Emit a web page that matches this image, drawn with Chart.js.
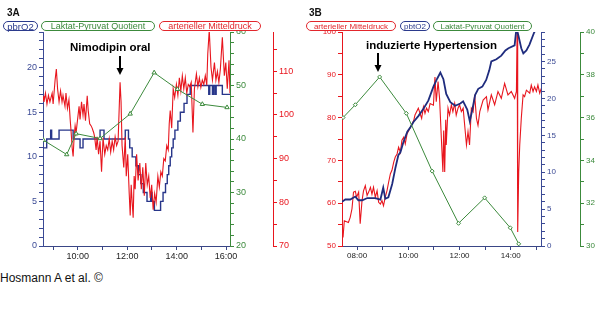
<!DOCTYPE html>
<html>
<head>
<meta charset="utf-8">
<script src="https://cdn.jsdelivr.net/npm/chart.js@4.4.0/dist/chart.umd.min.js"></script>
<style>
  body { margin: 0; background: #fff; font-family: "Liberation Sans", Arial, sans-serif; }
  .page { position: relative; width: 600px; height: 326px; overflow: hidden; }
  .panel { position: absolute; top: 0; width: 300px; height: 270px; }
  .tag { position: absolute; font-weight: bold; font-size: 10px; line-height: 11px; color: #111; }
  .note { position: absolute; font-weight: bold; font-size: 11.5px; line-height: 14px; color: #000; white-space: nowrap; }
  .pill { position: absolute; top: 21px; height: 10px; box-sizing: border-box; border: 1px solid; border-radius: 5px;
          display: flex; align-items: center; justify-content: center; white-space: nowrap; background: #fff; }
  .credit { position: absolute; left: 0; top: 271px; font-size: 12px; line-height: 14px; color: #111; }
  svg { position: absolute; }
</style>
</head>
<body>
<div class="page">
  <canvas id="chartA" class="panel" width="300" height="270" style="left:0"></canvas>
  <canvas id="chartB" class="panel" width="300" height="270" style="left:300px"></canvas>

  <div class="tag" style="left:7px;top:7px">3A</div>
  <div class="tag" style="left:309px;top:7px">3B</div>

  <div class="pill" style="left:3px;width:35px;font-size:9.5px;color:#2b3a8c;border-color:#2b3a8c">pbrO2</div>
  <div class="pill" style="left:41px;width:114px;font-size:9px;color:#3c8a3c;border-color:#3c8a3c">Laktat-Pyruvat Quotient</div>
  <div class="pill" style="left:159px;width:102px;font-size:9px;color:#e2262c;border-color:#e2262c">arterieller Mitteldruck</div>

  <div class="pill" style="left:306px;width:90px;font-size:8px;color:#e2262c;border-color:#e2262c">arterieller Mitteldruck</div>
  <div class="pill" style="left:400px;width:30px;font-size:8px;color:#2b3a8c;border-color:#2b3a8c">pbtO2</div>
  <div class="pill" style="left:433px;width:99px;font-size:8px;color:#3c8a3c;border-color:#3c8a3c">Laktat-Pyruvat Quotient</div>

  <div class="note" style="left:70px;top:40px">Nimodipin oral</div>
  <svg style="left:115px;top:55px" width="10" height="21"><line x1="5" y1="1" x2="5" y2="14" stroke="#000" stroke-width="2"/><polygon points="1.5,13 8.5,13 5,20" fill="#000"/></svg>

  <div class="note" style="left:366px;top:38px">induzierte Hypertension</div>
  <svg style="left:373px;top:52px" width="10" height="21"><line x1="5" y1="1" x2="5" y2="14" stroke="#000" stroke-width="2"/><polygon points="1.5,13 8.5,13 5,20" fill="#000"/></svg>

  <div class="credit">Hosmann A et al. ©</div>
</div>

<script>
// ---- 3A: times in hours ----
const timePbrO2 = [8.60, 8.74, 8.90, 8.94, 9.24, 9.81, 10.09, 10.21, 10.90, 11.06, 11.92, 12.05, 12.10, 12.20, 12.35, 12.45,
  12.55, 12.65, 12.80, 12.95, 13.00, 13.10, 13.35, 13.45, 13.55, 13.62, 13.68, 13.74, 13.80, 13.86, 13.93, 14.05, 14.15,
  14.30, 14.42, 14.55, 15.30, 15.34, 15.45, 15.49, 15.55, 15.60, 15.85, 16.16];
const pbrO2 = [11, 12, 13, 12, 13, 12, 11, 12, 13, 12, 13, 12, 11, 10, 9, 8,
  7, 6, 5, 6, 5, 4, 5, 6, 7, 8, 9, 10, 11, 12, 13, 14, 15,
  16, 17, 18, 17, 18, 17, 18, 17, 18, 17, 17];

const timeMapA = [8.59, 8.63, 8.69, 8.75, 8.81, 8.87, 8.96, 9.00, 9.08, 9.13,
  9.18, 9.24, 9.30, 9.36, 9.40, 9.48, 9.52, 9.58, 9.64, 9.69,
  9.73, 9.77, 9.81, 9.85, 9.89, 9.93, 9.99, 10.05, 10.09, 10.15,
  10.21, 10.25, 10.31, 10.38, 10.42, 10.48, 10.54, 10.58, 10.64, 10.68,
  10.74, 10.78, 10.84, 10.90, 10.96, 11.02, 11.09, 11.15, 11.21, 11.27,
  11.33, 11.39, 11.45, 11.51, 11.57, 11.63, 11.71, 11.75, 11.79, 11.86,
  11.92, 11.96, 12.02, 12.08, 12.12, 12.16, 12.20, 12.24, 12.28, 12.32,
  12.38, 12.44, 12.51, 12.57, 12.63, 12.69, 12.75, 12.81, 12.87, 12.93,
  12.99, 13.05, 13.11, 13.17, 13.24, 13.30, 13.36, 13.42, 13.48, 13.54,
  13.60, 13.66, 13.70, 13.74, 13.80, 13.86, 13.92, 13.99, 14.05, 14.11,
  14.17, 14.23, 14.29, 14.35, 14.41, 14.47, 14.53, 14.59, 14.66, 14.72,
  14.80, 14.86, 14.92, 14.98, 15.04, 15.10, 15.16, 15.22, 15.26, 15.32,
  15.39, 15.45, 15.53, 15.59, 15.65, 15.71, 15.77, 15.85, 15.93, 15.99,
  16.05, 16.12, 16.16];
const mapA = [104.3, 103, 105, 102.5, 104.5, 103, 105, 102.5, 108, 110.5,
  106, 103, 105.5, 103, 104.5, 102, 105, 101.5, 103.5, 99,
  96, 92.5, 90.5, 95, 97.5, 96, 99, 102, 99, 103,
  100, 102.5, 98.7, 104.4, 101, 98, 97.5, 97, 96, 95,
  92, 95, 91, 94, 87, 94.8, 91, 93, 92, 94.5,
  91.5, 94, 92, 95, 93, 94, 107.5, 103, 93, 88,
  95, 86, 91, 82, 77, 84, 80, 76.5, 86, 83,
  91, 85, 89, 83, 88, 81.5, 89, 84, 86, 81,
  84, 78.3, 82, 80, 86, 83.5, 87, 86, 90, 89.5,
  93, 92, 98, 101, 97, 106, 104, 107, 104.5, 108.5,
  105.5, 109, 106, 108.5, 105, 107, 106.5, 107.5, 96, 106,
  109.4, 106.5, 108.5, 106.3, 108, 107, 109, 106.8, 114, 119.4,
  111, 108, 112, 108, 110, 107.5, 110.5, 117.8, 109, 112,
  106, 112.5, 105];

const timeLprA = [8.60, 9.55, 9.93, 10.90, 12.12, 13.09, 14.03, 15.04, 16.04];
const lprA = [39.8, 37.1, 41.0, 40.1, 44.7, 52.4, 49.3, 46.5, 45.9];

// ---- 3B ----
const timeMapB = [7.41, 7.45, 7.50, 7.66, 7.73, 7.80, 7.86, 7.93, 7.98, 8.06,
  8.12, 8.19, 8.25, 8.32, 8.39, 8.45, 8.52, 8.58, 8.64, 8.71,
  8.78, 8.84, 8.91, 8.97, 9.03, 9.10, 9.17, 9.23, 9.30, 9.36,
  9.43, 9.49, 9.56, 9.62, 9.69, 9.75, 9.82, 9.88, 9.95, 10.08,
  10.21, 10.26, 10.39, 10.52, 10.59, 10.65, 10.71, 10.78, 10.85, 10.98,
  11.04, 11.09, 11.16, 11.22, 11.29, 11.35, 11.38, 11.42, 11.46, 11.48,
  11.55, 11.61, 11.68, 11.74, 11.81, 11.87, 11.94, 12.00, 12.07, 12.14,
  12.20, 12.27, 12.33, 12.39, 12.46, 12.53, 12.59, 12.66, 12.72, 12.79,
  12.92, 13.05, 13.11, 13.24, 13.37, 13.50, 13.63, 13.76, 13.89, 14.02,
  14.15, 14.22, 14.25, 14.27, 14.31, 14.35, 14.41, 14.48, 14.54, 14.61,
  14.74, 14.80, 14.87, 14.93, 15.00, 15.06, 15.13, 15.19];
const mapB = [55.2, 52, 55.9, 55.5, 56.7, 58.7, 62.6, 62.8, 61.4, 62.6,
  55.2, 60.5, 62.9, 64.1, 61.8, 62.6, 63.7, 62.1, 63.7, 61.4,
  62.9, 60.2, 59.8, 60.6, 59.4, 61.4, 63.0, 64.9, 66.9, 67.7,
  69.6, 70.8, 71.5, 73.1, 71.9, 74.7, 75.4, 73.9, 76.2, 77.7,
  79.3, 80.6, 82.2, 79.8, 82.5, 81.0, 82.2, 81.4, 83.3, 82.9,
  89.5, 83.7, 88.4, 84.5, 75.1, 67.3, 77, 67.3, 79.5, 73.6,
  82.2, 80.6, 83.0, 81.4, 83.3, 80.6, 82.2, 83.0, 81.4, 82.2,
  78.2, 73.6, 76.7, 73.6, 82.2, 81.4, 85.3, 79.8, 78.2, 81.4,
  84.1, 84.9, 81.8, 85.3, 83.0, 86.1, 84.5, 88.0, 85.3, 86.1,
  84.5, 86.1, 102, 53.3, 67.3, 73.6, 79.8, 85.3, 84.9, 86.4,
  85.7, 87.6, 86.1, 87.2, 86.1, 87.6, 85.7, 86.8];

const timePbtO2 = [7.41, 7.54, 7.73, 7.93, 8.05, 8.20, 8.40, 8.71, 8.91, 9.02,
  9.10, 9.22, 9.37, 9.49, 9.61, 9.69, 9.80, 9.96, 10.08, 10.20,
  10.39, 10.59, 10.78, 10.98, 11.13, 11.25, 11.37, 11.48, 11.64, 11.83,
  12.03, 12.14, 12.30, 12.40, 12.50, 12.61, 12.73, 12.89, 13.04, 13.16,
  13.24, 13.44, 13.63, 13.79, 13.91, 14.15, 14.22, 14.30, 14.41, 14.49,
  14.61, 14.73, 14.92, 15.07];
const pbtO2 = [6.0, 6.3, 6.3, 6.7, 6.2, 6.2, 6.5, 6.5, 6.3, 7.9,
  6.4, 6.6, 8.4, 10.5, 12.3, 12.7, 14.0, 15.5, 16.1, 16.8,
  17.6, 18.6, 19.7, 21.6, 22.7, 23.5, 22.6, 20.6, 19.5, 19.0,
  19.3, 19.6, 18.5, 16.9, 18.5, 20.5, 21.3, 21.6, 22.5, 23.8,
  25.0, 25.3, 25.8, 26.5, 26.8, 27.2, 29.5, 28.5, 26.8, 26.1,
  26.5, 27.3, 29.0, 29.5];

const timeLprB = [7.45, 7.93, 8.88, 9.92, 10.93, 11.96, 12.98, 13.98, 14.31];
const lprB = [36.0, 36.6, 37.9, 36.2, 33.5, 31.06, 32.25, 30.85, 30.1];

const BLUE = '#28368a';
const RED = '#e8161e';
const GREEN = '#3c8a3c';

Chart.defaults.font.family = '"Liberation Sans", Arial, sans-serif';

const pairs = (ts, vs) => ts.map((t, i) => ({ x: t, y: vs[i] }));

const timeLabel = v => (v % 2 === 0 ? String(v).padStart(2, '0') + ':00' : '');

function yAxis(position, min, max, step, labelEvery, color, width, fontSize) {
  return {
    type: 'linear',
    position: position,
    min: min,
    max: max,
    ticks: {
      stepSize: step,
      autoSkip: false,
      includeBounds: false,
      color: color,
      padding: 2,
      font: { size: fontSize },
      callback: v => (v % labelEvery === 0 ? v : '')
    },
    grid: { drawOnChartArea: false, tickLength: 4, color: color },
    border: { color: color },
    afterFit: s => { s.width = width; }
  };
}

function xAxis(min, max, fontSize) {
  return {
    type: 'linear',
    min: min,
    max: max,
    ticks: {
      stepSize: 1,
      autoSkip: false,
      includeBounds: false,
      maxRotation: 0,
      color: '#222',
      padding: 1,
      font: { size: fontSize },
      callback: timeLabel
    },
    grid: { drawOnChartArea: false, tickLength: 4, color: '#3a4686' },
    border: { color: '#3a4686' },
    afterFit: s => { s.height = 24; }
  };
}

const baseOptions = {
  responsive: false,
  animation: false,
  devicePixelRatio: 1,
  layout: { padding: { top: 32, left: 0, right: 0, bottom: 0 } },
  plugins: { legend: { display: false }, tooltip: { enabled: false } },
  elements: { point: { radius: 0 }, line: { tension: 0 } }
};

new Chart(document.getElementById('chartA'), {
  type: 'line',
  data: {
    datasets: [
      {
        label: 'Laktat-Pyruvat Quotient',
        data: pairs(timeLprA, lprA),
        yAxisID: 'yLpr',
        borderColor: GREEN,
        borderWidth: 1,
        pointStyle: 'triangle',
        pointRadius: 2.5,
        pointBackgroundColor: '#fff',
        pointBorderColor: GREEN,
        pointBorderWidth: 1
      },
      {
        label: 'arterieller Mitteldruck',
        data: pairs(timeMapA, mapA),
        yAxisID: 'yMap',
        borderColor: RED,
        borderWidth: 1.1
      },
      {
        label: 'pbrO2',
        data: pairs(timePbrO2, pbrO2),
        yAxisID: 'yO2',
        borderColor: BLUE,
        borderWidth: 1.4,
        stepped: true
      }
    ]
  },
  options: {
    ...baseOptions,
    scales: {
      x: xAxis(8.59, 16.16, 9),
      yO2: yAxis('left', 0, 24, 1, 5, '#3b4a95', 43, 9),
      yLpr: yAxis('right', 20, 60, 2, 10, GREEN, 43, 9),
      yMap: yAxis('right', 70, 119, 5, 10, RED, 27, 9)
    }
  }
});

new Chart(document.getElementById('chartB'), {
  type: 'line',
  data: {
    datasets: [
      {
        label: 'Laktat-Pyruvat Quotient',
        data: pairs(timeLprB, lprB),
        yAxisID: 'yLpr',
        borderColor: GREEN,
        borderWidth: 1,
        pointStyle: 'rectRot',
        pointRadius: 2,
        pointBackgroundColor: '#fff',
        pointBorderColor: GREEN,
        pointBorderWidth: 1
      },
      {
        label: 'pbtO2',
        data: pairs(timePbtO2, pbtO2),
        yAxisID: 'yO2',
        borderColor: '#1f2c7e',
        borderWidth: 1.8
      },
      {
        label: 'arterieller Mitteldruck',
        data: pairs(timeMapB, mapB),
        yAxisID: 'yMap',
        borderColor: RED,
        borderWidth: 1.1
      }
    ]
  },
  options: {
    ...baseOptions,
    scales: {
      x: xAxis(7.41, 15.18, 8),
      yMap: yAxis('left', 50, 100, 5, 10, RED, 42, 8),
      yO2: yAxis('right', 0, 29, 1, 5, '#3b4a95', 39, 8),
      yLpr: yAxis('right', 30, 40, 1, 2, GREEN, 20, 8)
    }
  }
});
</script>
</body>
</html>
